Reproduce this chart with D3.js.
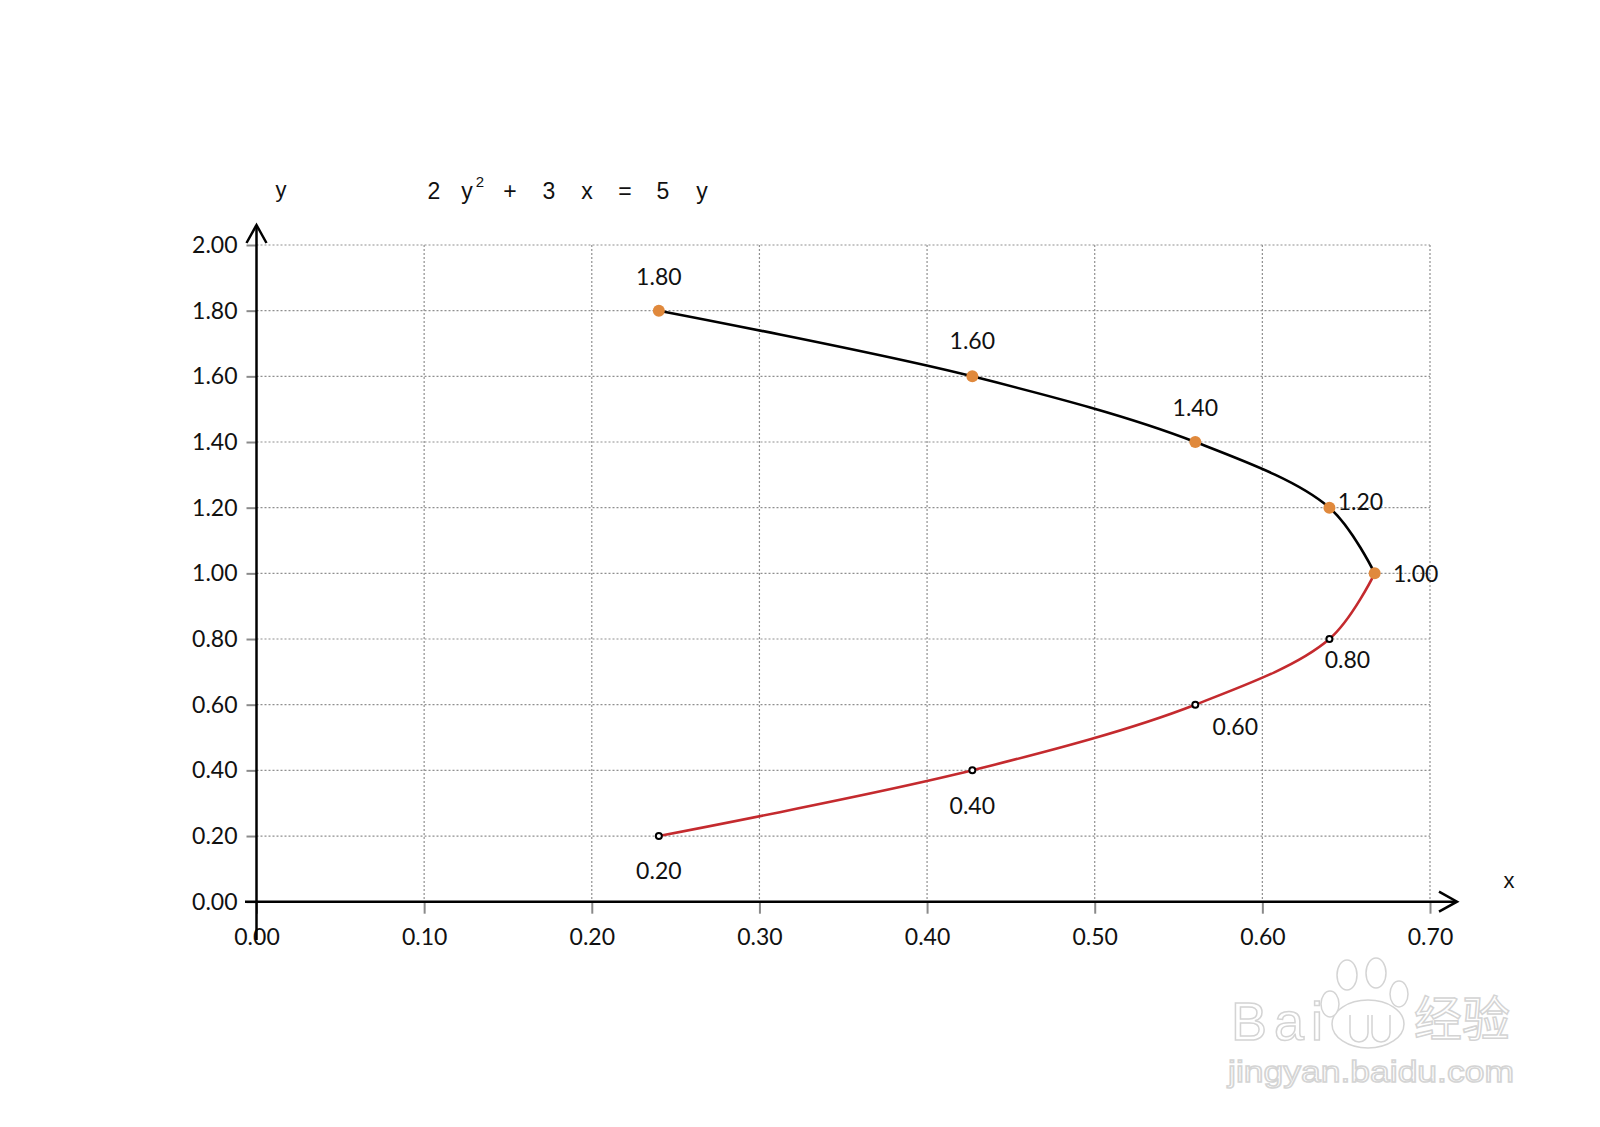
<!DOCTYPE html>
<html>
<head>
<meta charset="utf-8">
<script src="https://cdn.jsdelivr.net/npm/d3@7"></script>
<style>
  html, body { margin: 0; padding: 0; background: #fff; }
  svg { display: block; }
</style>
</head>
<body>
<svg id="chart" width="1600" height="1127"></svg>
<script>
// ---------- data ----------
const upperY = [1.00, 1.20, 1.40, 1.60, 1.80];
const upperX = [0.667, 0.640, 0.560, 0.427, 0.240];
const lowerY = [0.20, 0.40, 0.60, 0.80, 1.00];
const lowerX = [0.240, 0.427, 0.560, 0.640, 0.667];
const upperLabels = ["1.00", "1.20", "1.40", "1.60", "1.80"];
const lowerLabels = ["0.20", "0.40", "0.60", "0.80", ""];
const xTicks = [0, 0.1, 0.2, 0.3, 0.4, 0.5, 0.6, 0.7];
const yTicks = [0, 0.2, 0.4, 0.6, 0.8, 1.0, 1.2, 1.4, 1.6, 1.8, 2.0];
const titleTokens = ["2", "y", "2", "+", "3", "x", "=", "5", "y"];

// ---------- layout / style ----------
const upperOffsets = [[41, 0], [31, -7], [0, -35], [0, -36], [0, -35]];
const lowerOffsets = [[0, 34], [0, 35], [40, 21], [18, 20], [0, 0]];
const titleX = [434, 467, 480, 510, 549, 587, 625, 663, 702];
const numFont = "Lato, 'Open Sans', sans-serif";
const txtFont = "'Liberation Sans', Arial, sans-serif";

const svg = d3.select("#chart");
const x = d3.scaleLinear().domain([0, 0.7]).range([256.5, 1430]);
const y = d3.scaleLinear().domain([0, 2.0]).range([901.7, 245]);

// gridlines
const grid = svg.append("g");
grid.selectAll("line.v").data(xTicks.slice(1)).join("line")
  .attr("x1", d => x(d)).attr("x2", d => x(d))
  .attr("y1", y(2.0)).attr("y2", y(0))
  .attr("stroke", "#8f8f8f").attr("stroke-width", 1.2).attr("stroke-dasharray", "2,2");
grid.selectAll("line.h").data(yTicks.slice(1)).join("line")
  .attr("x1", x(0)).attr("x2", x(0.7))
  .attr("y1", d => y(d)).attr("y2", d => y(d))
  .attr("stroke", "#8f8f8f").attr("stroke-width", 1.2).attr("stroke-dasharray", "2,2");

// axes via d3 axis generators (ticks + labels)
const xAxis = svg.append("g").attr("transform", `translate(0,${y(0)})`)
  .call(d3.axisBottom(x).tickValues(xTicks).tickFormat(d3.format(".2f")).tickSize(12).tickPadding(15));
const yAxis = svg.append("g").attr("transform", `translate(${x(0)},0)`)
  .call(d3.axisLeft(y).tickValues(yTicks).tickFormat(d3.format(".2f")).tickSize(10).tickPadding(9));
[xAxis, yAxis].forEach(g => {
  g.select(".domain").remove();
  g.selectAll(".tick line").attr("stroke", "#8a8a8a").attr("stroke-width", 2);
  g.selectAll(".tick text").attr("fill", "#111").style("font-family", numFont).style("font-size", "23px");
});
xAxis.selectAll(".tick text").attr("dy", "0.71em");

// main axis lines with arrows
const axisG = svg.append("g").attr("stroke", "#000").attr("stroke-width", 2.5).attr("fill", "none");
axisG.append("line").attr("x1", 245).attr("x2", 1456).attr("y1", y(0)).attr("y2", y(0));
axisG.append("polyline").attr("points", `1439,${y(0) - 10} 1457,${y(0)} 1439,${y(0) + 10}`);
axisG.append("line").attr("x1", x(0)).attr("x2", x(0)).attr("y1", 226).attr("y2", 940);
axisG.append("polyline").attr("points", `${x(0) - 10},243 ${x(0)},225 ${x(0) + 10},243`);

// curves
const line = d3.line().x(d => x(d[0])).y(d => y(d[1])).curve(d3.curveCatmullRom.alpha(0.5));
const upper = upperX.map((v, i) => [v, upperY[i]]);
const lower = lowerX.map((v, i) => [v, lowerY[i]]);
svg.append("path").attr("d", line(lower)).attr("fill", "none").attr("stroke", "#c42a2e").attr("stroke-width", 2.6);
svg.append("path").attr("d", line(upper)).attr("fill", "none").attr("stroke", "#000").attr("stroke-width", 2.6);

// markers
svg.append("g").selectAll("circle").data(lower.slice(0, 4)).join("circle")
  .attr("cx", d => x(d[0])).attr("cy", d => y(d[1])).attr("r", 3)
  .attr("fill", "#fff").attr("stroke", "#000").attr("stroke-width", 2);
svg.append("g").selectAll("circle").data(upper).join("circle")
  .attr("cx", d => x(d[0])).attr("cy", d => y(d[1])).attr("r", 6)
  .attr("fill", "#e0893c");

// data labels
const lab = svg.append("g").style("font-family", numFont).style("font-size", "23px").attr("fill", "#111")
  .attr("text-anchor", "middle").attr("dominant-baseline", "central");
upper.forEach((d, i) => {
  lab.append("text").attr("x", x(d[0]) + upperOffsets[i][0]).attr("y", y(d[1]) + upperOffsets[i][1]).text(upperLabels[i]);
});
lower.forEach((d, i) => {
  if (!lowerLabels[i]) return;
  lab.append("text").attr("x", x(d[0]) + lowerOffsets[i][0]).attr("y", y(d[1]) + lowerOffsets[i][1]).text(lowerLabels[i]);
});

// axis titles and equation
svg.append("text").attr("x", 281).attr("y", 197).attr("text-anchor", "middle")
  .style("font-family", txtFont).style("font-size", "22px").attr("fill", "#111").text("y");
svg.append("text").attr("x", 1509).attr("y", 888).attr("text-anchor", "middle")
  .style("font-family", txtFont).style("font-size", "22px").attr("fill", "#111").text("x");
const tt = svg.append("g").style("font-family", txtFont).attr("fill", "#111").attr("text-anchor", "middle");
titleTokens.forEach((t, i) => {
  const sup = i === 2;
  tt.append("text").attr("x", titleX[i]).attr("y", sup ? 187 : 199)
    .style("font-size", sup ? "15px" : "23px").text(t);
});

// watermark (faint outlined)
const wm = svg.append("g").attr("fill", "#fff").attr("stroke", "#d4d4d4").attr("stroke-width", 1.5);
wm.append("text").attr("x", 1231).attr("y", 1040).style("font-family", txtFont).style("font-size", "54px")
  .attr("textLength", 92).text("Bai");
wm.append("text").attr("x", 1414).attr("y", 1036).style("font-family", "'Noto Sans CJK SC', sans-serif").style("font-size", "48px")
  .attr("textLength", 96).text("经验");
wm.append("text").attr("x", 1228).attr("y", 1082).style("font-family", txtFont).style("font-size", "30px")
  .attr("textLength", 286).attr("lengthAdjust", "spacingAndGlyphs").text("jingyan.baidu.com");
wm.append("ellipse").attr("cx", 1368).attr("cy", 1024).attr("rx", 36).attr("ry", 24);
[[1330, 1004, 9, 13], [1347, 975, 10, 15], [1376, 973, 10, 15], [1399, 994, 9, 13]].forEach(p => {
  wm.append("ellipse").attr("cx", p[0]).attr("cy", p[1]).attr("rx", p[2]).attr("ry", p[3]);
});
wm.append("path").attr("d", "M1350,1015 v18 a9,9 0 0 0 18,0 v-18 M1372,1015 v18 a9,9 0 0 0 18,0 v-18");
</script>
</body>
</html>
